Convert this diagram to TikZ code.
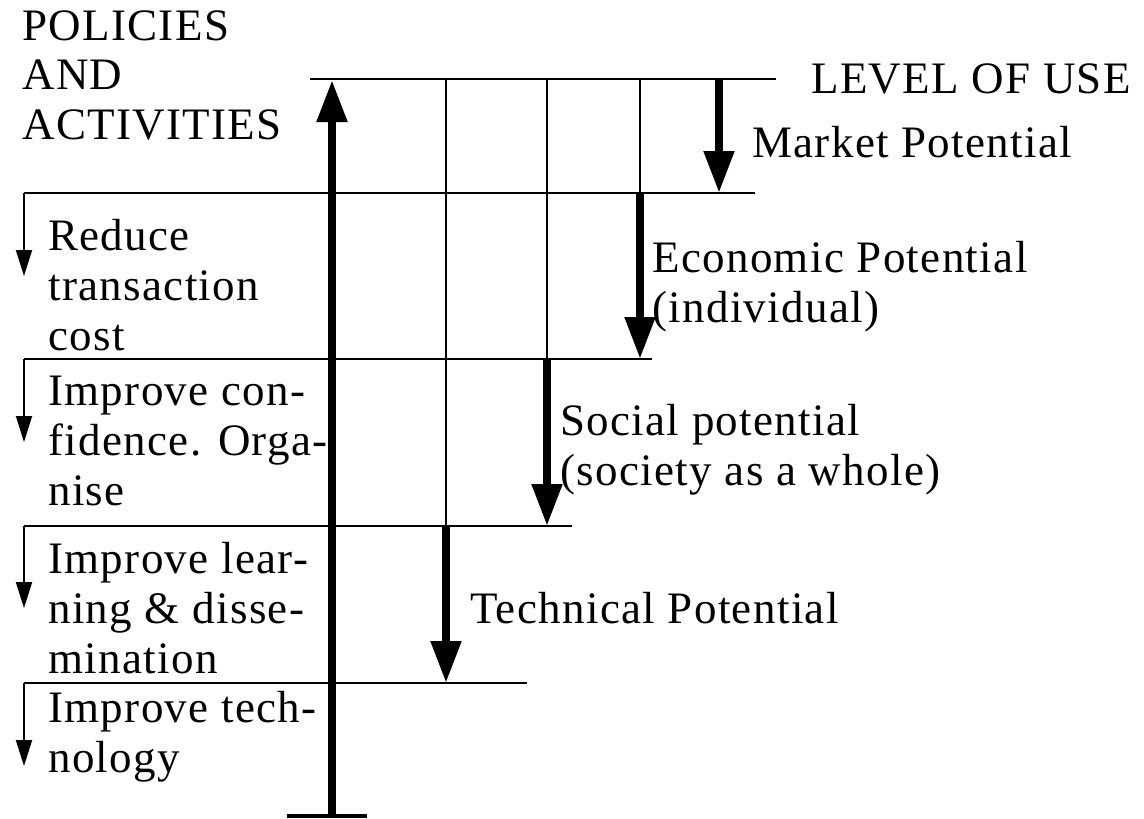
\documentclass[tikz,border=0pt]{standalone}
\usepackage{fontspec}
\setmainfont{Liberation Serif}[LetterSpace=3]
\usetikzlibrary{arrows.meta}
\begin{document}
\begin{tikzpicture}[x=1pt,y=-1pt,
  thinline/.style={line width=2pt},
  bigarrow/.style={line width=8pt,-{Triangle[width=29pt,length=42pt]}},
  smallarrow/.style={line width=2pt,-{Triangle[width=16pt,length=26pt]}},
  lbl/.style={anchor=base west,inner sep=0pt,font=\fontsize{45}{50}\selectfont}]
\useasboundingbox (0,0) rectangle (1144,819);
% level lines
\coordinate (t0) at (310,79);  \coordinate (t1) at (776,79);
\coordinate (h1a) at (24,193); \coordinate (h1b) at (755,193);
\coordinate (h2a) at (24,359); \coordinate (h2b) at (652,359);
\coordinate (h3a) at (24,526); \coordinate (h3b) at (572,526);
\coordinate (h4a) at (24,683); \coordinate (h4b) at (527,683);
\draw[thinline] (t0) -- (t1);
\draw[thinline] (h1a) -- (h1b);
\draw[thinline] (h2a) -- (h2b);
\draw[thinline] (h3a) -- (h3b);
\draw[thinline] (h4a) -- (h4b);
% thin verticals
\coordinate (v1t) at (446,79); \coordinate (v1m) at (446,526); \coordinate (v1b) at (446,683);
\coordinate (v2t) at (547,79); \coordinate (v2m) at (547,359); \coordinate (v2b) at (547,526);
\coordinate (v3t) at (640,79); \coordinate (v3m) at (640,193); \coordinate (v3b) at (640,359);
\coordinate (v4t) at (719,79); \coordinate (v4b) at (719,193);
\draw[thinline] (v1t) -- (v1m);
\draw[thinline] (v2t) -- (v2m);
\draw[thinline] (v3t) -- (v3m);
% thick down arrows
\draw[bigarrow] (v4t) -- (v4b);
\draw[bigarrow] (v3m) -- (v3b);
\draw[bigarrow] (v2m) -- (v2b);
\draw[bigarrow] (v1m) -- (v1b);
% big up arrow with foot bar
\coordinate (upb) at (332,816); \coordinate (upt) at (332,80);
\coordinate (fl) at (287,816); \coordinate (fr) at (367,816);
\draw[bigarrow] (upb) -- (upt);
\draw[line width=4pt] (fl) -- (fr);
% small left arrows
\coordinate (s1) at (24,276); \coordinate (s2) at (24,442);
\coordinate (s3) at (24,608); \coordinate (s4) at (24,766);
\draw[smallarrow] (h1a) -- (s1);
\draw[smallarrow] (h2a) -- (s2);
\draw[smallarrow] (h3a) -- (s3);
\draw[smallarrow] (h4a) -- (s4);
% texts
\node[lbl] (pol) at (22,40) {\begin{tabular}[t]{@{}l@{}}POLICIES\\AND\\ACTIVITIES\end{tabular}};
\node[lbl] (lev) at (811,93) {LEVEL OF USE};
\node[lbl] (mkt) at (752,157) {Market Potential};
\node[lbl] (eco) at (652,272) {\begin{tabular}[t]{@{}l@{}}Economic Potential\\(individual)\end{tabular}};
\node[lbl] (soc) at (560,435) {\begin{tabular}[t]{@{}l@{}}Social potential\\(society as a whole)\end{tabular}};
\node[lbl] (tec) at (470,623) {Technical Potential};
\node[lbl] (a1) at (48,250) {\begin{tabular}[t]{@{}l@{}}Reduce\\transaction\\cost\end{tabular}};
\node[lbl] (a2) at (48,405) {\begin{tabular}[t]{@{}l@{}}Improve con-\\fidence. Orga-\\nise\end{tabular}};
\node[lbl] (a3) at (48,573) {\begin{tabular}[t]{@{}l@{}}Improve lear-\\ning \& disse-\\mination\end{tabular}};
\node[lbl] (a4) at (48,722) {\begin{tabular}[t]{@{}l@{}}Improve tech-\\nology\end{tabular}};
\end{tikzpicture}
\end{document}
